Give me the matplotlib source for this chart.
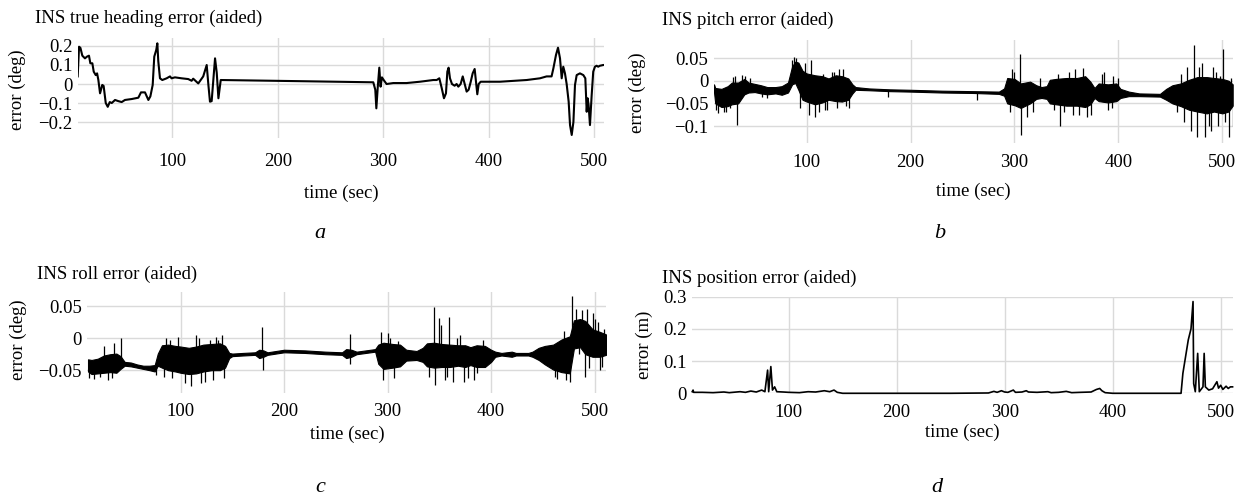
import numpy as np
import matplotlib
matplotlib.use("Agg")
import matplotlib.pyplot as plt

plt.rcParams['font.family'] = ['Liberation Serif', 'DejaVu Serif']

# ---- data ----
# a: heading error (deg)
head_t = [10.3, 11.6, 12.9, 14.7, 17.2, 19.1, 21.0, 22.3, 24.2, 25.5, 27.4, 28.7, 29.9, 31.5,
          33.6, 34.9, 36.9, 38.8, 40.7, 42.6, 45.7, 48.8, 52.0, 55.1, 61.5, 67.8, 70.3, 74.1,
          77.3, 79.2, 81.4, 82.9, 84.8, 85.8, 86.7, 88.3, 90.5, 94.6, 97.8, 99.3, 102.5, 108.8,
          115.1, 118.3, 119.8, 124.6, 129.3, 132.6, 134.2, 135.7, 137.3, 140.5, 142.1, 143.7,
          145.9, 180, 220, 259, 290.5, 292.4, 293.4, 294.7, 296.2, 297.4, 298.7, 300.6, 303.1,
          309.4, 322, 334.7, 347.4, 350.6, 353.1, 355.3, 357.5, 359.4, 360.7, 361.9, 363.2,
          365.1, 367.6, 369.5, 371.1, 373.3, 375.3, 377.2, 379.0, 380.9, 382.8, 384.7, 386.6,
          387.9, 389.1, 390.4, 392.3, 410.5, 435.9, 448.5, 454.8, 459.5, 461.2, 463.7, 465.6,
          467.5, 469.1, 470.6, 472.2, 473.8, 475.7, 477.0, 478.6, 480.2, 481.7, 483.3, 486.4,
          489.6, 491.5, 492.8, 493.7, 494.6, 495.9, 497.5, 499.0, 500.6, 502.2, 503.7, 505.3,
          508.5, 509.5]
head_v = [0.04, 0.196, 0.19, 0.149, 0.135, 0.144, 0.149, 0.109, 0.109, 0.065, 0.047, 0.056,
          0.021, -0.049, -0.005, -0.01, -0.10, -0.12, -0.095, -0.10, -0.084, -0.09, -0.095,
          -0.084, -0.079, -0.072, -0.044, -0.044, -0.084, -0.065, -0.005, 0.144, 0.18, 0.214,
          0.12, 0.03, 0.021, 0.03, 0.04, 0.03, 0.035, 0.03, 0.026, 0.017, 0.028, 0.003, 0.04,
          0.1, -0.005, -0.093, -0.09, 0.135, 0.06, -0.075, 0.021, 0.018, 0.015, 0.012, 0.009,
          -0.03, -0.128, -0.02, 0.086, -0.014, 0.035, 0.019, 0.0, 0.005, 0.005, 0.012, 0.021,
          0.021, 0.03, -0.02, -0.075, -0.049, 0.065, 0.086, 0.03, 0.0, -0.009, 0.0, -0.014,
          0.0, 0.04, 0.0, -0.04, -0.03, 0.01, 0.056, 0.079, 0.012, -0.054, 0.0, 0.012, 0.012,
          0.021, 0.03, 0.04, 0.04, 0.082, 0.153, 0.191, 0.135, 0.03, 0.091, 0.056, 0.0, -0.093,
          -0.216, -0.268, -0.2, -0.005, 0.047, 0.056, 0.047, 0.03, -0.146, -0.075, -0.11,
          -0.216, -0.06, 0.065, 0.091, 0.096, 0.091, 0.096, 0.1, 0.1]

# b: pitch error (deg) - noise band (low/high) and spikes
pitch_t = [10.8, 12, 18, 24, 28, 34, 37, 40, 44, 50, 56, 62, 70, 76, 82, 86, 89, 92, 96, 100,
           108, 115, 121, 128, 134, 140, 144, 147, 160, 180, 200, 230, 260, 285, 290, 293, 300,
           306, 315, 321, 326, 331, 334, 340, 350, 360, 368, 373, 377, 381, 390, 398, 402, 410,
           420, 440, 446, 452, 460, 468, 476, 485, 492, 500, 506, 510]
pitch_lo = [-0.025, -0.050, -0.058, -0.056, -0.052, -0.050, -0.040, -0.030, -0.026, -0.025,
            -0.028, -0.030, -0.028, -0.031, -0.026, -0.008, -0.005, -0.020, -0.042, -0.046,
            -0.052, -0.048, -0.042, -0.045, -0.046, -0.042, -0.028, -0.020, -0.021, -0.023,
            -0.024, -0.026, -0.027, -0.029, -0.033, -0.050, -0.054, -0.060, -0.050, -0.040,
            -0.038, -0.040, -0.050, -0.052, -0.055, -0.055, -0.058, -0.052, -0.038, -0.045,
            -0.048, -0.045, -0.038, -0.034, -0.034, -0.035, -0.042, -0.050, -0.056, -0.064,
            -0.068, -0.072, -0.068, -0.072, -0.068, -0.055]
pitch_hi = [-0.008, -0.016, -0.018, -0.012, -0.004, -0.004, 0.000, 0.004, -0.004, -0.007,
            -0.010, -0.014, -0.014, -0.012, -0.004, 0.032, 0.042, 0.040, 0.022, 0.016, 0.012,
            0.010, 0.005, 0.012, 0.010, 0.005, -0.008, -0.014, -0.017, -0.019, -0.020, -0.022,
            -0.023, -0.024, -0.017, 0.006, 0.004, -0.006, -0.002, -0.010, -0.014, -0.012,
            0.002, 0.004, 0.006, 0.006, 0.010, -0.002, -0.016, -0.006, -0.008, -0.006, -0.018,
            -0.024, -0.028, -0.029, -0.018, -0.010, -0.006, 0.002, 0.008, 0.008, 0.006, 0.004,
            0.000, -0.008]
pitch_spk_t = [13, 15, 20, 22, 26, 29, 31, 33, 38, 41, 45, 57, 62, 86, 88, 90, 94, 98, 102,
               104, 108, 112, 116, 118, 120, 124, 126, 129, 131, 135, 138, 141, 178.6, 263.6,
               296, 298, 300, 305.4, 306, 312, 318, 325, 338, 342, 344, 348, 352, 356, 358, 362,
               366, 370, 374, 384, 386, 390, 394, 395, 400, 456, 460, 463, 466, 470, 473, 476,
               478, 480, 483, 487, 489, 491, 494, 496, 498, 500.5, 503, 506.5, 508, 510]
pitch_spk_v = [-0.065, -0.072, -0.068, -0.070, -0.060, 0.008, 0.010, -0.098, 0.012, 0.010,
               0.005, -0.035, -0.038, 0.045, 0.052, 0.050, -0.060, 0.040, -0.075, 0.045,
               -0.080, -0.070, 0.015, -0.065, -0.065, 0.020, 0.020, -0.060, 0.025, 0.025,
               -0.055, -0.060, -0.037, -0.042, -0.070, 0.025, 0.020, 0.060, -0.120, -0.080,
               -0.070, 0.005, -0.065, 0.015, -0.100, -0.070, 0.020, -0.075, 0.025, -0.075,
               0.028, -0.080, -0.075, 0.015, 0.020, -0.065, -0.060, 0.010, 0.005, -0.070,
               0.015, -0.090, 0.030, -0.110, 0.078, -0.125, 0.030, 0.040, -0.125, -0.100,
               -0.110, 0.030, 0.020, -0.100, 0.010, 0.070, -0.090, -0.125, 0.005, -0.100]

# c: roll error (deg)
roll_t = [10.6, 14, 20, 26, 32, 38, 42, 46, 52, 58, 64, 70, 75, 78, 82, 88, 95, 100, 108, 115,
          122, 130, 138, 143, 147, 150, 160, 172, 176, 180, 184, 200, 220, 240, 256, 260, 265,
          270, 288, 291, 296, 305, 312, 318, 328, 334, 338, 345, 352, 360, 368, 375, 380, 386,
          394, 400, 404, 410, 420, 424, 436, 440, 446, 452, 460, 468, 476, 480, 486, 491, 498,
          505, 511]
roll_lo = [-0.052, -0.056, -0.055, -0.054, -0.053, -0.054, -0.048, -0.043, -0.044, -0.046,
           -0.048, -0.050, -0.052, -0.043, -0.046, -0.050, -0.052, -0.054, -0.056, -0.055,
           -0.052, -0.050, -0.050, -0.046, -0.031, -0.028, -0.027, -0.026, -0.031, -0.029,
           -0.026, -0.022, -0.023, -0.025, -0.026, -0.031, -0.029, -0.025, -0.021, -0.040,
           -0.048, -0.046, -0.044, -0.035, -0.034, -0.037, -0.044, -0.046, -0.045, -0.045,
           -0.043, -0.045, -0.042, -0.045, -0.045, -0.037, -0.029, -0.027, -0.029, -0.027,
           -0.027, -0.029, -0.034, -0.041, -0.049, -0.053, -0.055, -0.016, -0.014, -0.025,
           -0.029, -0.029, -0.026]
roll_hi = [-0.033, -0.034, -0.032, -0.027, -0.025, -0.024, -0.028, -0.037, -0.038, -0.041,
           -0.043, -0.043, -0.042, -0.024, -0.011, -0.010, -0.012, -0.013, -0.015, -0.013,
           -0.010, -0.009, -0.008, -0.012, -0.023, -0.024, -0.023, -0.022, -0.018, -0.019,
           -0.022, -0.018, -0.019, -0.021, -0.022, -0.017, -0.018, -0.021, -0.017, -0.010,
           -0.007, -0.009, -0.010, -0.018, -0.020, -0.015, -0.008, -0.007, -0.009, -0.010,
           -0.011, -0.011, -0.014, -0.011, -0.012, -0.018, -0.021, -0.023, -0.021, -0.023,
           -0.023, -0.021, -0.015, -0.012, -0.010, -0.002, 0.003, 0.028, 0.030, 0.027, 0.014,
           0.010, 0.006]
roll_spk_t = [12, 16, 22, 26, 30, 34, 36, 42, 76, 84, 86, 90, 92, 98, 104, 110, 114.5, 118,
              120, 124, 128, 131, 134, 136, 140, 142, 179, 179.5, 263.5, 264, 294, 296, 300,
              302, 306, 310, 340, 345, 346, 349.5, 352, 355, 357, 359, 363, 367, 370, 373.5,
              378, 383, 386, 392, 462, 464, 466, 470, 472, 476, 478, 482, 485, 487.6, 491, 493,
              495, 498, 500, 503, 505, 507, 509]
roll_spk_v = [-0.062, -0.064, -0.060, -0.012, -0.065, -0.062, -0.008, 0.000, -0.058, -0.060,
              0.000, -0.003, -0.062, 0.002, -0.070, -0.075, 0.005, 0.000, -0.070, -0.068,
              -0.002, -0.065, 0.002, -0.002, 0.005, -0.062, 0.018, -0.050, 0.006, -0.040,
              0.010, -0.065, 0.008, 0.000, -0.062, -0.004, -0.060, 0.049, -0.073, 0.031,
              0.020, -0.066, -0.060, 0.034, -0.068, 0.000, 0.005, -0.068, -0.062, -0.066,
              -0.055, -0.003, -0.060, -0.063, -0.010, 0.012, -0.066, -0.068, 0.066, 0.045,
              -0.025, 0.044, -0.060, 0.045, -0.047, 0.040, 0.030, 0.025, -0.049, -0.045, 0.015]

# d: position error (m)
pos_t = [10.7, 11.5, 12, 20, 30, 40, 45, 55, 60, 65, 70, 75, 78, 80.5, 81.5, 83.5, 85, 87, 89,
         95, 100, 110, 118, 125, 133, 138, 142, 145, 150, 200, 250, 285, 290, 293, 297, 300,
         303, 308, 310, 316, 320, 322, 330, 340, 343, 350, 357, 362, 370, 380, 385, 388, 390,
         393, 400, 430, 463.3, 465, 470, 472.5, 474.4, 475, 476.5, 478.7, 480.2, 483.6, 484.7,
         485.8, 489, 492.5, 496.5, 498, 500, 502, 505, 507, 509, 511]
pos_v = [0.005, 0.010, 0.003, 0.003, 0.002, 0.004, 0.002, 0.005, 0.003, 0.007, 0.004, 0.010,
         0.005, 0.072, 0.005, 0.083, 0.010, 0.020, 0.005, 0.004, 0.003, 0.002, 0.005, 0.004,
         0.008, 0.005, 0.010, 0.003, 0.000, 0.000, 0.000, 0.001, 0.006, 0.003, 0.008, 0.004,
         0.003, 0.010, 0.003, 0.004, 0.008, 0.004, 0.003, 0.005, 0.002, 0.003, 0.006, 0.002,
         0.003, 0.004, 0.012, 0.015, 0.008, 0.002, 0.000, 0.000, 0.000, 0.062, 0.166, 0.200,
         0.285, 0.030, 0.005, 0.124, 0.005, 0.020, 0.124, 0.020, 0.010, 0.014, 0.036, 0.016,
         0.025, 0.012, 0.022, 0.015, 0.020, 0.020]

xticks = [100, 200, 300, 400, 500]
head_ticks = [-0.2, -0.1, 0, 0.1, 0.2]
head_labels = ['\u22120.2', '\u22120.1', '0', '0.1', '0.2']
pitch_ticks = [-0.1, -0.05, 0, 0.05]
pitch_labels = ['\u22120.1', '\u22120.05', '0', '0.05']
roll_ticks = [-0.05, 0, 0.05]
roll_labels = ['\u22120.05', '0', '0.05']
pos_ticks = [0, 0.1, 0.2, 0.3]
pos_labels = ['0', '0.1', '0.2', '0.3']

W, H = 1246, 504
FS = 13.5
fig = plt.figure(figsize=(W / 100, H / 100), dpi=100)


def panel(left, right, top, bottom, xlim, ylim, yt, ylab, xpad):
    ax = fig.add_axes([left / W, 1 - bottom / H, (right - left) / W, (bottom - top) / H])
    ax.set_xlim(*xlim)
    ax.set_ylim(*ylim)
    ax.set_xticks(xticks)
    ax.set_xticklabels([str(v) for v in xticks])
    ax.set_yticks(yt)
    ax.set_yticklabels(ylab)
    for s in ax.spines.values():
        s.set_visible(False)
    ax.tick_params(length=0, labelsize=FS, pad=4)
    ax.tick_params(axis='x', pad=xpad)
    ax.grid(True, color='#dadada', lw=1)
    ax.set_axisbelow(True)
    return ax


def txt(x, y, s, **kw):
    fig.text(x / W, 1 - y / H, s, fontsize=kw.pop('fs', FS), **kw)


def noisy(ax, t, lo, hi, spk_t, spk_v):
    ax.fill_between(t, lo, hi, color='black', lw=0.8)
    mid = (np.array(lo) + np.array(hi)) / 2
    base = np.interp(spk_t, t, mid)
    ax.vlines(spk_t, base, spk_v, color='black', lw=0.9)


# a
ax = panel(78, 604, 38, 138, (10.6, 509.2), (-0.284, 0.242), head_ticks, head_labels, 11)
ax.plot(head_t, head_v, color='black', lw=1.5)
txt(35, 18, 'INS true heading error (aided)', ha='left', va='center')
txt(17, 90, 'error (deg)', rotation=90, ha='center', va='center')
txt(341, 193, 'time (sec)', ha='center', va='center')
txt(320, 233, 'a', ha='center', va='center', style='italic', fs=16)

# b
ax = panel(714, 1233, 40, 143.3, (10.8, 510.3), (-0.138, 0.0898), pitch_ticks, pitch_labels, 7.5)
noisy(ax, pitch_t, pitch_lo, pitch_hi, pitch_spk_t, pitch_spk_v)
txt(662, 20, 'INS pitch error (aided)', ha='left', va='center')
txt(637, 93, 'error (deg)', rotation=90, ha='center', va='center')
txt(973, 191, 'time (sec)', ha='center', va='center')
txt(940, 233, 'b', ha='center', va='center', style='italic', fs=16)

# c
ax = panel(87.4, 606, 291.7, 392.7, (10.0, 511.0), (-0.0852, 0.0728), roll_ticks, roll_labels, 7.5)
noisy(ax, roll_t, roll_lo, roll_hi, roll_spk_t, roll_spk_v)
txt(37, 274, 'INS roll error (aided)', ha='left', va='center')
txt(18, 340, 'error (deg)', rotation=90, ha='center', va='center')
txt(347, 434, 'time (sec)', ha='center', va='center')
txt(320, 487, 'c', ha='center', va='center', style='italic', fs=16)

# d
ax = panel(692, 1233, 296.7, 393.3, (10.5, 511.4), (0, 0.3), pos_ticks, pos_labels, 7.5)
ax.plot(pos_t, pos_v, color='black', lw=1.2, clip_on=False)
txt(662, 278, 'INS position error (aided)', ha='left', va='center')
txt(644, 345, 'error (m)', rotation=90, ha='center', va='center')
txt(962, 432, 'time (sec)', ha='center', va='center')
txt(937, 487, 'd', ha='center', va='center', style='italic', fs=16)

fig.savefig('out.png', dpi=100)
